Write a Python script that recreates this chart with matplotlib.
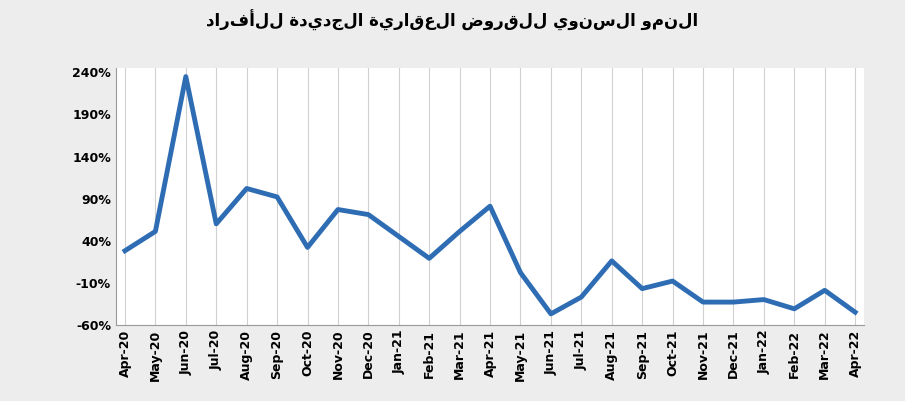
import matplotlib.pyplot as plt

months = ['Apr-20', 'May-20', 'Jun-20', 'Jul-20', 'Aug-20', 'Sep-20', 'Oct-20', 'Nov-20',
          'Dec-20', 'Jan-21', 'Feb-21', 'Mar-21', 'Apr-21', 'May-21', 'Jun-21', 'Jul-21',
          'Aug-21', 'Sep-21', 'Oct-21', 'Nov-21', 'Dec-21', 'Jan-22', 'Feb-22', 'Mar-22', 'Apr-22']
growth = [28, 51, 235, 60, 102, 92, 32, 77, 71, 45, 19, 51, 81, 2, -47, -27,
          16, -17, -8, -33, -33, -30, -41, -19, -45]
yticks = [-60, -10, 40, 90, 140, 190, 240]

title = 'النمو السنوي للقروض العقارية الجديدة للأفراد'

fig = plt.figure(figsize=(9.05, 4.01), dpi=100, facecolor='#ededed')
ax = fig.add_axes([0.128, 0.19, 0.827, 0.64])
ax.plot(range(len(months)), growth, color='#2e6db4', lw=3.5)
ax.set_xlim(-0.3, len(months) - 0.7)
ax.set_ylim(-60, 245)
ax.set_yticks(yticks)
ax.set_yticklabels([f'{v}%' for v in yticks], fontsize=9, fontweight='bold')
ax.set_xticks(range(len(months)))
ax.set_xticklabels(months, rotation=90, fontsize=9, fontweight='bold')
ax.grid(axis='x', color='#d0d0d0', lw=0.8)
ax.tick_params(length=0)
for s in ['top', 'right']:
    ax.spines[s].set_visible(False)
ax.spines['left'].set_color('#999999')
ax.spines['bottom'].set_color('#999999')

# matplotlib has no bidi support, so reverse characters for right-to-left order
fig.text(0.5, 0.95, title[::-1], ha='center', va='center', fontsize=12,
         fontweight='bold', family='DejaVu Sans')

fig.savefig('out.png', facecolor=fig.get_facecolor())
